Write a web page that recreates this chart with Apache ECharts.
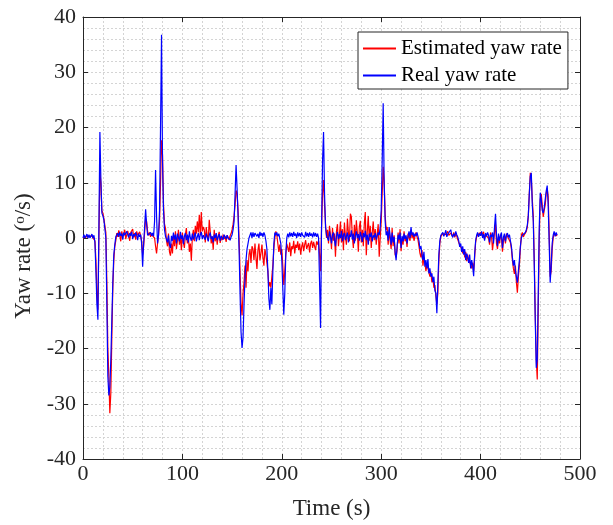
<!DOCTYPE html>
<html>
<head>
<meta charset="utf-8">
<title>Yaw rate</title>
<script src="https://cdn.jsdelivr.net/npm/echarts@6/dist/echarts.min.js"></script>
<style>
  html, body { margin: 0; padding: 0; background: #fff; }
  #main { width: 613px; height: 525px; }
</style>
</head>
<body>
<div id="main"></div>
<script>
// one sample per second, first one at t = 0 s
const timeStart = 0;
const timeStep = 1;

const xTicks = [0, 100, 200, 300, 400, 500];
const yTicks = [-40, -30, -20, -10, 0, 10, 20, 30, 40];
const seriesNames = ["Estimated yaw rate", "Real yaw rate"];

// estimated yaw rate (deg/s), 10 values per row
const estimatedYawRate = [
  0, 0.3, 0, 0.2, 0.4, 0, 0.3, 0, 0.1, 0.4, // 0
  0, 0.2, -0.5, -4, -10, -13, 0, 12, 10, 5, // 10
  4.5, 3.5, 3.5, 1, -8, -20, -25, -31.7, -28, -18, // 20
  -9, -4, -1.5, -0.5, 0.9, 0.2, 1.4, 0.5, -0.6, 1.2, // 30
  0.3, 0.8, 1.5, -0.2, 0.6, 1.3, 0.4, -0.5, 1.0, 0.7, // 40
  1.6, 0.1, 0.9, -0.3, 1.2, 0.5, 0.2, 1.1, 0.4, -0.5, // 50
  -3, -1.5, 1, 3.5, 3, 1.2, 0.5, 1.0, 0.2, 0.8, // 60
  0.4, 0.6, 0, -1.5, -2.8, -1, 0.5, 3, 10, 17.7, // 70
  15, 6, 2.5, 1.8, -0.5, -1.5, 0.8, -2.5, -3.2, -1.0, // 80
  -2.8, 0.5, -1.5, 1.2, -2.0, -0.5, 1.5, -1.2, 0.3, -2.2, // 90
  1.0, -0.8, -1.8, 0.6, 1.8, -1.0, 0.4, -2.5, -1.0, -4.1, // 100
  0.2, 1.5, -0.6, 2.2, 0.8, 3.0, 1.0, 4.2, 0.5, 4.7, // 110
  1.2, 2.0, 1.5, -0.8, 2.0, 0.5, -0.5, 3.3, 1.2, -1.0, // 120
  0.3, -2.1, 1.5, -0.6, 0.8, -1.2, 0.4, 1.1, -0.9, 0.2, // 130
  -0.4, 0.6, -0.2, 0.3, -0.7, 0.5, 0.1, -0.3, 0.4, 0.8, // 140
  1.5, 2.5, 4, 6, 8.6, 8, 5, 0, -6, -11.8, // 150
  -14, -10, -8, -5, -9, -4, -6, -3, -2, -4.5, // 160
  -1.5, -2.0, -4.0, -1.0, -3.5, -5.6, -2.2, -1.0, -4.0, -2.8, // 170
  -1.2, -3.5, -5.0, -2.0, -3.0, -4.5, -6, -8.8, -8, -9, // 180
  -7, -5, -2, 0, 1.2, 0.5, -1, -2.5, -1.2, -3, // 190
  -2, -5, -8.5, -6, -3, -1, -1.0, -2.5, -0.8, -3.3, // 200
  -1.5, -2.0, -0.5, -2.8, -1.2, -1.8, -0.6, -2.2, -1.0, -3.0, // 210
  -1.6, -0.8, -2.4, -1.2, -0.4, -2.0, -1.4, -0.9, -2.6, -1.0, // 220
  -0.5, -1.8, -0.7, -1.5, -2.2, -0.6, -1.2, -0.5, -3, -6, // 230
  2, 8, 10.5, 6, 2.5, 0, 1.5, -1.0, 2.2, 0.5, // 240
  -2.0, 1.8, -0.5, 0.8, -3.4, 1.2, 2.5, -1.5, 0.6, 3.0, // 250
  -0.8, 1.6, -2.2, 2.8, 0.3, -1.2, 3.5, 1.0, -0.6, 4.4, // 260
  3.8, 0.2, -1.8, 2.4, -0.5, 3.2, 1.0, -2.5, 2.0, 3.1, // 270
  -0.8, 1.5, -1.5, 2.6, 4.7, -3.1, 1.2, 4.0, -0.5, 2.2, // 280
  -1.8, 1.0, 3.0, -0.4, 1.6, -1.2, 0.8, 2.5, -3.4, 0, // 290
  3, 8, 12.9, 10, 4, 1.5, 2.0, -1.2, 1.5, -0.5, // 300
  -2.0, 1.8, -1.5, 0.5, -3.0, -3.5, -2.2, 1.0, -1.0, 1.6, // 310
  -2.4, 0.0, -1.2, 1.2, -0.6, 0.2, -1.6, 0.8, 0.5, -0.5, // 320
  1.5, 0, 0.8, -0.5, 0.3, 1.0, 0.2, -0.3, -1.5, -2.8, // 330
  -3.5, -2.2, -5, -3.5, -4.5, -6, -4.8, -5.5, -5.8, -7, // 340
  -6.2, -8, -7.2, -9, -8.5, -10.5, -12, -10, -4, -1, // 350
  0.3, 0.3, 0.8, 0.5, 1.0, 0.6, 0.4, 1.2, 0.5, 0.2, // 360
  0.9, 0.7, 0.3, 1.0, 0.1, 0.8, 0.4, -0.3, -0.8, -1.2, // 370
  -1.5, -2.0, -2.8, -2.0, -3.5, -2.5, -4.2, -3.0, -4.0, -3.8, // 380
  -4.8, -5.5, -4.5, -6.0, -3.5, -0.8, 0.2, 0.6, 0.9, 0.3, // 390
  1.0, 0.5, 0.4, 1.1, -0.2, 0.5, 0.8, 0.2, 0.0, -1.2, // 400
  1.0, 0.3, -2.2, -0.5, 1.0, 2.5, -1.0, -2.0, 0.2, -1.0, // 410
  0.6, 0.0, -2.5, -0.5, 0.4, -1.0, 0.8, 0.3, 0.6, 0.1, // 420
  -0.8, -2, -4, -5.5, -6.5, -5, -8, -9.9, -7, -5, // 430
  -2, 0.5, 1.0, 0.2, 0.6, 0.8, 1.2, 2.0, 4, 8, // 440
  11.8, 11, 7, 4, -4, -14, -22, -25.6, -13, 0, // 450
  7, 8, 6, 3.8, 5, 6, 8, 9, 7.5, 1, // 460
  -7, -6, -2, 0, 0.8, 1.0, 0.4, 0.6 // 470
];

// real (measured) yaw rate (deg/s)
const realYawRate = [
  0, 0.6, 0, 0, 0.7, 0, 0.6, 0, 0, 0.7, // 0
  0, 0.5, -0.8, -6, -12, -14.8, 2, 19.2, 10.5, 4.5, // 10
  4, 3.3, 3, 0, -12, -25, -28.5, -27, -22, -15, // 20
  -8, -3, -1.2, 0.2, 0.5, 0.9, 0.2, 1.1, 0.4, 0.8, // 30
  -0.3, 1.0, 0.5, 0.2, 1.2, 0.6, 0.1, 0.9, 0.4, 1.1, // 40
  -0.2, 0.7, 0.3, 1.0, 0.5, -0.4, 0.8, 0.2, 0.6, -1, // 50
  -5.2, -1, 2, 5.2, 2.5, 0.5, 0.8, 0.2, 1.0, 0.4, // 60
  0.9, 0.3, 3, 12.3, 4, -1, 0.5, 5, 20, 36.8, // 70
  14, 5, 1.5, 0.3, 0.2, -0.8, 0.5, -1.2, -1.8, 0.4, // 80
  -0.5, 1.0, -0.3, 0.6, -1.0, 0.8, 0.1, -0.6, 1.1, -0.2, // 90
  0.5, -1.1, 0.3, 0.9, -0.4, 0.6, -0.8, 1.2, 0.0, -0.5, // 100
  0.8, -0.3, 0.4, 1.0, -0.6, 0.2, 0.9, -0.4, 0.6, 1.1, // 110
  -0.2, 0.5, 0.4, -0.3, 0.8, 0.1, -0.6, 0.5, 1.0, -0.2, // 120
  0.3, -0.8, 0.6, 0.0, 0.9, -0.4, 0.2, 0.7, -0.5, 0.4, // 130
  0.1, -0.3, 0.6, 0.2, -0.2, 0.5, 0.0, 0.3, -0.4, 0.2, // 140
  0.6, 1.5, 3, 8, 13.2, 9, 4, -2, -10, -17, // 150
  -19.9, -18, -12, -7, -4, -2, -1, 0, 0.5, 1, // 160
  0, 1.0, 0.2, 0.9, 1.2, 0.3, 0.8, 0.0, 1.1, 0.4, // 170
  0.9, 0.2, 1.0, 0.5, -0.5, -2, -6, -11, -13, -9, // 180
  -12, -6, -1, 1, 0.5, 1, 0.3, 0.8, 0.5, -1, // 190
  -4, -9, -13.9, -10, -3, 0, 0.8, 0.1, 1.0, 0.3, // 200
  0.9, 0.2, 1.1, 0.4, 0.8, 0.0, 1.0, 0.3, 0.9, 0.2, // 210
  1.0, 0.5, 0.8, 0.1, 1.1, 0.3, 0.9, 0.2, 1.0, 0.4, // 220
  0.8, 0.1, 1.0, 0.3, 0.9, 0.2, 0.8, 0, -8, -16.3, // 230
  2, 14, 19.2, 8, 2, 0.5, 0.8, -0.5, 1.2, 0.2, // 240
  -1.0, 0.6, 1.0, -0.3, -1.5, 0.4, 1.1, -0.2, 0.7, 0.0, // 250
  1.3, -0.6, 0.5, 0.9, -0.4, 0.3, 1.0, -0.8, 0.6, 0.2, // 260
  1.4, -0.3, 0.8, -1.0, 0.4, 1.2, 0.0, 0.7, -0.5, 1.1, // 270
  0.3, -0.7, 0.9, 0.1, 1.3, -0.4, 0.6, -1.2, 0.8, 0.2, // 280
  1.0, -0.6, 0.5, 0.1, 0.9, -0.3, 0.4, 1.0, 0.5, 2, // 290
  5, 14, 24.4, 10, 3, 0.5, 1.2, -0.5, 2.0, 0.4, // 300
  -1.2, 1.0, -0.8, 0.2, -2.5, -4.0, -1.5, 0.6, -0.3, 1.0, // 310
  -1.8, 0.4, -0.6, 0.8, -0.2, 0.5, -1.0, 0.3, 1.2, 0.0, // 320
  2, 0.5, 1.0, 0.2, 0.8, 0.4, 1.0, 0.3, -0.5, -2, // 330
  -1.5, -3, -4, -2.5, -5.2, -4, -5.5, -3.8, -6.4, -5.5, // 340
  -7, -6.4, -8, -7, -9.5, -10, -13.6, -8, -3, -0.5, // 350
  0.5, 0.6, 1.0, 0.3, 0.8, 1.4, 0.2, 0.7, 1.0, 0.4, // 360
  1.5, 0.5, 0.1, 0.8, 0.3, 1.2, 0.6, 0.2, -0.5, -1.6, // 370
  -1.0, -2.5, -1.5, -3.0, -2.0, -4.0, -2.8, -3.5, -4.5, -3.0, // 380
  -5.5, -4.0, -5.0, -6.9, -3.0, -0.5, 0.5, 1.0, 0.2, 0.8, // 390
  0.4, 1.2, 0.0, 0.7, -0.5, 0.9, 0.3, 1.0, 0.5, -0.8, // 400
  0.6, 0.2, 1.0, -1.0, 2.0, 4.4, 0.5, -1.5, 0.8, -0.5, // 410
  0.4, 1.0, -1.8, 0.2, 0.8, -0.6, 0.5, 0.9, 0.1, 0.6, // 420
  -0.5, -1.5, -3.5, -5, -4, -6, -7, -8.1, -6, -4, // 430
  -1.5, 0, 0.5, 0.8, 0.2, 1.0, 1.5, 2.3, 4, 8, // 440
  11.2, 11.8, 6, 3, -5, -15, -23.5, -22, -10, 2, // 450
  8.2, 7, 5, 4.5, 5.5, 7, 8.5, 9.5, 6, -1, // 460
  -8.1, -5, -1, 0.5, 1.2, 0.3, 1.0, 0.5 // 470
];

const toPairs = (arr) => arr.map((v, i) => [timeStart + i * timeStep, v]);

const fontFamily = "'Liberation Serif', 'Times New Roman', serif";
const axisColor = "#262626";
const gridLine = { color: "#d4d4d4", width: 1, type: [2, 2] };

const chart = echarts.init(document.getElementById("main"));

// shared look of the box axes (MATLAB style, ticks pointing inward)
function boxAxis(extra) {
  return Object.assign(
    {
      type: "value",
      axisLine: { show: true, onZero: false, lineStyle: { color: axisColor, width: 1 } },
      axisTick: { show: true, inside: true, length: 5, lineStyle: { color: axisColor } },
      axisLabel: { show: false },
      splitLine: { show: false },
    },
    extra
  );
}

const xMin = xTicks[0];
const xMax = xTicks[xTicks.length - 1];
const xStep = xTicks[1] - xTicks[0];
const yMin = yTicks[0];
const yMax = yTicks[yTicks.length - 1];
const yStep = yTicks[1] - yTicks[0];

const option = {
  backgroundColor: "#fff",
  animation: false,
  grid: { left: 83, right: 33, top: 17, bottom: 65, containLabel: false },
  legend: {
    orient: "vertical",
    left: 358,
    top: 32,
    padding: [6, 6, 3, 5],
    itemGap: 6,
    itemWidth: 33,
    itemHeight: 2,
    itemTextGap: 4,
    icon: "rect",
    backgroundColor: "#fff",
    borderColor: axisColor,
    borderWidth: 1,
    borderRadius: 0,
    textStyle: { fontFamily: fontFamily, fontSize: 21, color: "#000" },
    data: [
      { name: seriesNames[0], itemStyle: { color: "#ff0000" } },
      { name: seriesNames[1], itemStyle: { color: "#0000ff" } },
    ],
  },
  xAxis: [
    boxAxis({
      position: "bottom",
      min: xMin,
      max: xMax,
      interval: xStep,
      name: "Time (s)",
      nameLocation: "middle",
      nameGap: 38,
      nameTextStyle: { fontFamily: fontFamily, fontSize: 23, color: axisColor },
      axisLabel: { show: true, margin: 4, fontFamily: fontFamily, fontSize: 22, color: axisColor },
      splitLine: { show: true, lineStyle: gridLine },
      minorTick: { show: false, splitNumber: 5 },
      minorSplitLine: { show: true, lineStyle: gridLine },
    }),
    boxAxis({ position: "top", min: xMin, max: xMax, interval: xStep }),
  ],
  yAxis: [
    boxAxis({
      position: "left",
      min: yMin,
      max: yMax,
      interval: yStep,
      name: "Yaw rate ({sup|o}/s)",
      nameLocation: "middle",
      nameGap: 46,
      nameTextStyle: {
        fontFamily: fontFamily,
        fontSize: 23,
        color: axisColor,
        padding: [0, 36, 0, 0],
        rich: { sup: { fontFamily: fontFamily, fontSize: 15, color: axisColor, verticalAlign: "top" } },
      },
      axisLabel: { show: true, margin: 7, fontFamily: fontFamily, fontSize: 22, color: axisColor },
      splitLine: { show: true, lineStyle: gridLine },
      minorTick: { show: false, splitNumber: 5 },
      minorSplitLine: { show: true, lineStyle: gridLine },
    }),
    boxAxis({ position: "right", min: yMin, max: yMax, interval: yStep }),
  ],
  series: [
    {
      name: seriesNames[0],
      type: "line",
      symbol: "none",
      sampling: "none",
      color: "#ff0000",
      lineStyle: { color: "#ff0000", width: 1.2 },
      data: toPairs(estimatedYawRate),
    },
    {
      name: seriesNames[1],
      type: "line",
      symbol: "none",
      sampling: "none",
      color: "#0000ff",
      lineStyle: { color: "#0000ff", width: 1.2 },
      data: toPairs(realYawRate),
    },
  ],
};

chart.setOption(option);
</script>
</body>
</html>
